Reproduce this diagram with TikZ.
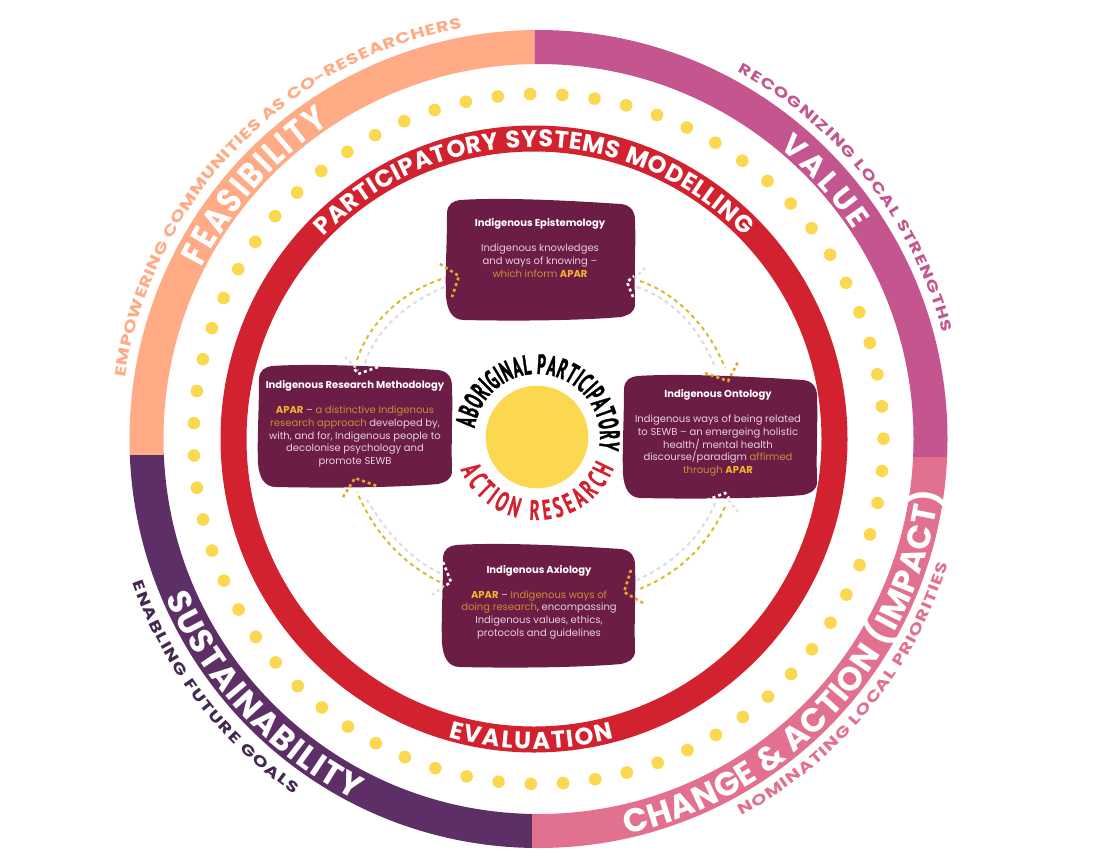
\documentclass[tikz,border=0pt]{standalone}
\usepackage{fontspec}
\usetikzlibrary{decorations.text,calc}
\setmainfont{Poppins}
\newfontfamily\ringfont{Poppins}
\newfontfamily\condfont[FakeStretch=0.84]{Poppins}
\newfontfamily\widefont[FakeStretch=1.3]{Poppins}
\newfontfamily\handfont[FakeStretch=0.54,FakeBold=1.2]{PT Sans}
\newfontfamily\handredfont[FakeStretch=0.6,FakeBold=0.6]{PT Sans}
\newfontfamily\boxfont{Poppins}
\definecolor{feas}{HTML}{FFAB85}
\definecolor{valu}{HTML}{C4558F}
\definecolor{chng}{HTML}{E1718F}
\definecolor{sust}{HTML}{5E2F66}
\definecolor{redr}{HTML}{D2222F}
\definecolor{dotc}{HTML}{FBD84F}
\definecolor{boxc}{HTML}{6C1D45}
\definecolor{bodyc}{HTML}{E6D0DF}
\definecolor{orgc}{HTML}{D08A35}
\definecolor{aparc}{HTML}{F4B42E}
\definecolor{olive}{HTML}{D8BC2A}
\definecolor{greyc}{HTML}{DCDCE2}
\definecolor{chev}{HTML}{EBA52B}
\definecolor{navy}{HTML}{43294F}
\tikzset{
  boxtext/.style={align=center,text=bodyc,font=\boxfont\fontsize{10}{12.7}\selectfont,inner sep=0pt},
  conn/.style={olive,line width=2pt,dash pattern=on 4pt off 3.8pt},
  conng/.style={greyc,line width=2pt,dash pattern=on 4pt off 3.8pt},
  chevo/.style={chev,line width=2.6pt,dash pattern=on 3pt off 3pt},
  chevw/.style={white,line width=2.6pt,dash pattern=on 3pt off 3pt},
  chevg/.style={greyc,line width=2pt,dash pattern=on 3pt off 3pt},
  arctext/.style={decorate,decoration={text along path,text={#1},text align={fit to path}}}
}
\newcommand{\wobbox}[4]{%
  \pgfmathsetmacro{\wb}{#3-#1}\pgfmathsetmacro{\hb}{#4-#2}%
  \fill[boxc,shift={(#1,-#2)}]
    (14,-2) .. controls (60,1) and ({\wb-60},-3) .. ({\wb-14},-6)
    .. controls ({\wb-4},-7) and (\wb,-14) .. (\wb,-22)
    .. controls ({\wb+1},-50) and ({\wb-1},{-\hb+50}) .. (\wb,{-\hb+16})
    .. controls (\wb,{-\hb+8}) and ({\wb-6},{-\hb+5}) .. ({\wb-14},{-\hb+3})
    .. controls ({\wb-60},{-\hb-1}) and (60,{-\hb-1}) .. (18,-\hb)
    .. controls (6,-\hb) and (1,{-\hb+10}) .. (0,{-\hb+24})
    .. controls (-1,{-\hb+50}) and (1,-50) .. (1,-14)
    .. controls (2,-6) and (7,-3) .. cycle;}
\begin{document}
\begin{tikzpicture}[x=1pt,y=1pt]
\useasboundingbox (0,0) rectangle (1108,-854);
\fill[white] (0,0) rectangle (1108,-854);
\coordinate (oc) at (538.5,-439);
\coordinate (rc) at (534,-439);
\coordinate (dc) at (538.5,-439);
\coordinate (sc) at (537,-437);
% outer ring
\begin{scope}\clip (100,0) rectangle (534.5,-455);
\draw[feas,line width=34pt] (oc) circle[radius=392pt];\end{scope}
\begin{scope}\clip (534.5,0) rectangle (1000,-457);
\draw[valu,line width=34pt] (oc) circle[radius=392pt];\end{scope}
\begin{scope}\clip (100,-455) rectangle (532,-854);
\draw[sust,line width=34pt] (oc) circle[radius=392pt];\end{scope}
\begin{scope}\clip (532,-457) rectangle (1000,-854);
\draw[chng,line width=34pt] (oc) circle[radius=392pt];\end{scope}
% outer ring titles
\path[arctext={|\condfont\bfseries\fontsize{35}{35}\selectfont\color{white}|FEASIBILITY}] (oc) ++(153:378pt) arc[start angle=153,end angle=123.6,radius=378pt];
\path[arctext={|\ringfont\bfseries\fontsize{30}{30}\selectfont\color{white}|VALUE}] (oc) ++(50.5:378pt) arc[start angle=50.5,end angle=33.5,radius=378pt];
\path[arctext={|\ringfont\bfseries\fontsize{33}{33}\selectfont\color{white}|SUSTAINABILITY}] (oc) ++(203:405pt) arc[start angle=203,end angle=243,radius=405pt];
\path[arctext={|\ringfont\bfseries\fontsize{33}{33}\selectfont\color{white}|CHANGE {\&} ACTION (IMPACT)}] (oc) ++(282.5:405pt) arc[start angle=282.5,end angle=352.5,radius=405pt];
% outer labels
\path[arctext={|\widefont\bfseries\fontsize{15}{15}\selectfont\color{feas}|EMPOWERING COMMUNITIES AS CO-RESEARCHERS}] (oc) ++(171.5:418pt) arc[start angle=171.5,end angle=100.6,radius=418pt];
\path[arctext={|\widefont\bfseries\fontsize{14.5}{15}\selectfont\color{valu}|RECOGNIZING LOCAL STRENGTHS}] (oc) ++(61.5:418pt) arc[start angle=61.5,end angle=14.7,radius=418pt];
\path[arctext={|\widefont\bfseries\fontsize{15}{15}\selectfont\color{navy}|ENABLING FUTURE GOALS}] (oc) ++(199.5:431pt) arc[start angle=199.5,end angle=235.5,radius=431pt];
\path[arctext={|\widefont\bfseries\fontsize{15}{15}\selectfont\color{chng}|NOMINATING LOCAL PRIORITIES}] (oc) ++(298.3:428pt) arc[start angle=298.3,end angle=343,radius=428pt];
% dots
\foreach \i in {0,...,66} {
  \fill[dotc] (dc) ++({91.4-\i*5.373}:345pt) circle[radius=6.3pt];
}
% red ring
\draw[redr,line width=26pt] (rc) circle[radius=300.5pt];
\path[arctext={|\ringfont\bfseries\fontsize{24}{24}\selectfont\color{white}|PARTICIPATORY SYSTEMS MODELLING}] (rc) ++(136:292pt) arc[start angle=136,end angle=44,radius=292pt];
\path[arctext={|\ringfont\bfseries\fontsize{24}{24}\selectfont\color{white}|EVALUATION}] (rc) ++(254:310pt) arc[start angle=254,end angle=285,radius=310pt];
% centre
\fill[dotc] (sc) circle[radius=51.3pt];
\path[arctext={|\handfont\bfseries\fontsize{28}{28}\selectfont\color{black}|ABORIGINAL PARTICIPATORY}] (sc) ++(172:63pt) arc[start angle=172,end angle=-11,radius=63pt];
\path[arctext={|\handredfont\bfseries\fontsize{28}{28}\selectfont\color{redr}|ACTION RESEARCH}] (sc) ++(203:83pt) arc[start angle=203,end angle=338,radius=83pt];
% boxes
\wobbox{446}{198}{635}{320}
\wobbox{258}{364}{452}{487}
\wobbox{623}{374}{817}{498}
\wobbox{442}{543}{635}{667}
\node[boxtext] (epi) at (540,-248) {{\bfseries\color{white}Indigenous Epistemology}\\[12.3pt]Indigenous knowledges\\and ways of knowing –\\{\color{orgc}which inform} {\bfseries\color{aparc}APAR}};
\node[boxtext] (met) at (355,-424) {{\bfseries\color{white}Indigenous Research Methodology}\\[12.3pt]{\bfseries\color{aparc}APAR} – {\color{orgc}a distinctive Indigenous}\\{\color{orgc}research approach} developed by,\\with, and for, Indigenous people to\\decolonise psychology and\\promote SEWB};
\node[boxtext] (ont) at (718,-433) {{\bfseries\color{white}Indigenous Ontology}\\[12.3pt]Indigenous ways of being related\\to SEWB – an emergeing holistic\\health/ mental health\\discourse/paradigm {\color{orgc}affirmed}\\{\color{orgc}through} {\bfseries\color{aparc}APAR}};
\node[boxtext] (axi) at (539,-602) {{\bfseries\color{white}Indigenous Axiology}\\[12.3pt]{\bfseries\color{aparc}APAR} – {\color{orgc}Indigenous ways of}\\{\color{orgc}doing research}, encompassing\\Indigenous values, ethics,\\protocols and guidelines};
% connector ends
\coordinate (m1y) at (357,-360); \coordinate (e1y) at (445,-278);
\coordinate (m1g) at (365,-363); \coordinate (e1g) at (447,-286);
\coordinate (e2y) at (640,-281); \coordinate (o2y) at (725,-368);
\coordinate (e2g) at (637,-287); \coordinate (o2g) at (715,-367);
\coordinate (o3y) at (725,-507); \coordinate (a3y) at (637,-590);
\coordinate (o3g) at (715,-503); \coordinate (a3g) at (637,-580);
\coordinate (a4y) at (440,-582); \coordinate (m4y) at (357,-492);
\coordinate (a4g) at (440,-573); \coordinate (m4g) at (367,-500);
% connectors
\draw[conng] (m1g) .. controls (378,-325) and (412,-300) .. (e1g);
\draw[conn]  (m1y) .. controls (370,-320) and (405,-290) .. (e1y);
\draw[conng] (e2g) .. controls (675,-300) and (700,-330) .. (o2g);
\draw[conn]  (e2y) .. controls (680,-295) and (710,-330) .. (o2y);
\draw[conng] (o3g) .. controls (700,-540) and (670,-565) .. (a3g);
\draw[conn]  (o3y) .. controls (705,-550) and (675,-575) .. (a3y);
\draw[conng] (a4g) .. controls (410,-560) and (385,-530) .. (m4g);
\draw[conn]  (a4y) .. controls (405,-565) and (375,-535) .. (m4y);
% chevrons
\draw[chevo] (440,-264) -- (459,-276) -- (452,-297);
\draw[chevo] (705,-373) -- (728,-381) -- (738,-362);
\draw[chevo] (631,-570) -- (624,-592) -- (643,-603);
\draw[chevo] (343,-497) -- (355,-478) -- (377,-486);
\draw[chevg] (345,-357) -- (358,-370);
\draw[chevw] (378,-367) -- (358,-374) -- (353,-367);
\draw[chevg] (645,-268) -- (635,-278);
\draw[chevw] (633,-297) -- (627,-282) -- (634,-276);
\draw[chevg] (738,-512) -- (727,-498);
\draw[chevw] (707,-500) -- (725,-493) -- (729,-498);
\draw[chevg] (432,-595) -- (444,-586);
\draw[chevw] (443,-562) -- (451,-582) -- (445,-586);
\end{tikzpicture}
\end{document}
